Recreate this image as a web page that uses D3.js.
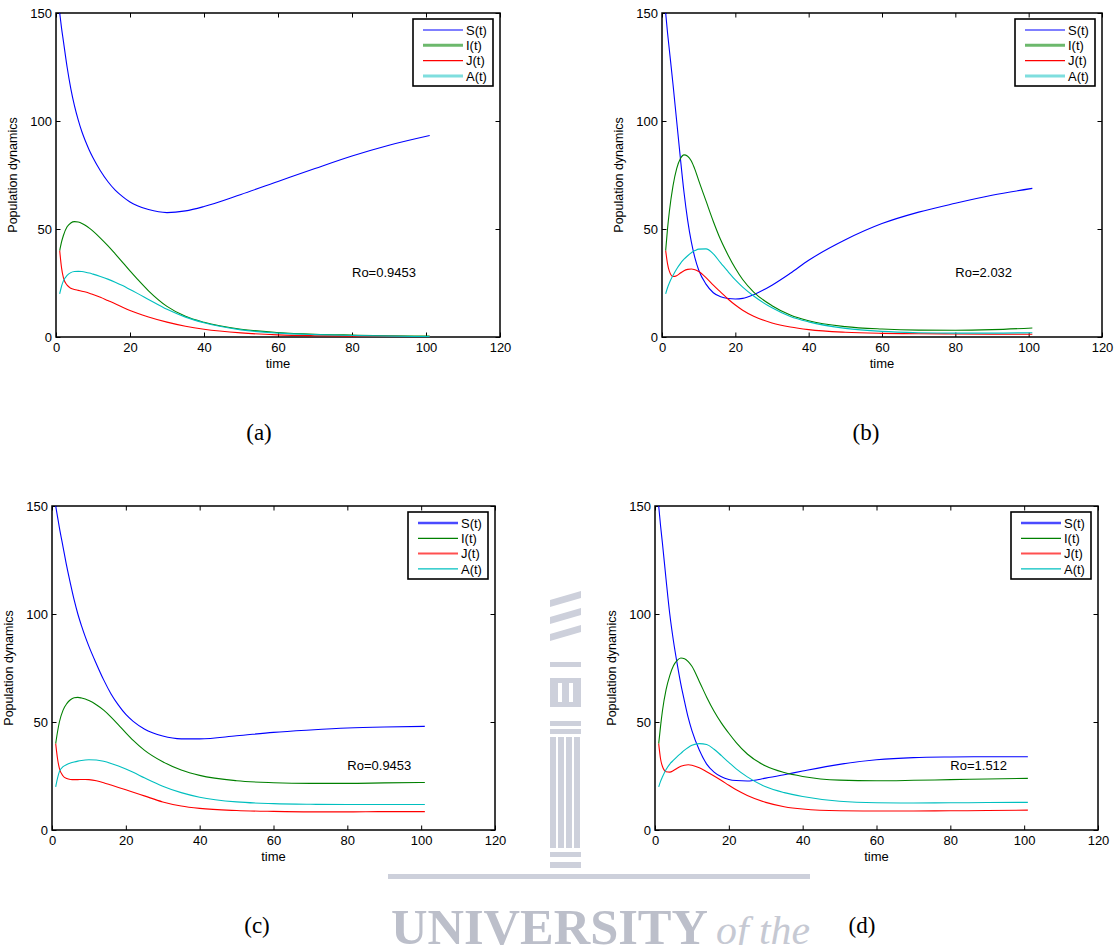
<!DOCTYPE html>
<html>
<head>
<meta charset="utf-8">
<script src="https://cdn.jsdelivr.net/npm/d3@7"></script>
<style>
    body { margin: 0; background: #fff; }
    svg { display: block; }
    text { font-family: "Liberation Sans", Arial, sans-serif; fill: #000; }
    .caption { font-family: "Liberation Serif", "Times New Roman", serif; }
</style>
</head>
<body>
<div id="chart"></div>
<script>
// time points (t runs 1..101)
var time = [1, 1.5, 2, 3, 4, 5, 6, 7, 8, 9, 10, 12, 14, 16, 18, 20, 22, 25, 30, 35, 40, 50, 60, 70, 80, 90, 101];

// panel (a)
var aS = [150, 143, 137, 125, 115, 107, 100.5, 95, 90.5, 86.5, 83, 77, 72, 68, 65, 62.5, 60.8, 59, 57.6, 58.4, 60.4, 66, 72, 78, 83.8, 88.8, 93.3];
var aI = [40, 44, 47, 51, 52.8, 53.4, 53.2, 52.6, 51.6, 50.4, 49, 45.8, 42.3, 38.5, 34.6, 30.6, 26.8, 21.4, 14.2, 9.6, 6.8, 3.6, 2.1, 1.3, 0.9, 0.6, 0.4];
var aJ = [40, 32, 27.5, 24, 22.6, 22, 21.6, 21.2, 20.8, 20.3, 19.7, 18.4, 16.9, 15.4, 13.8, 12.3, 11, 9.3, 6.9, 5, 3.6, 1.9, 1.0, 0.6, 0.4, 0.3, 0.2];
var aA = [20, 23.5, 26, 28.5, 29.8, 30.3, 30.4, 30.3, 30, 29.6, 29.1, 28, 26.8, 25.4, 23.8, 22, 20.2, 17.4, 12.8, 9.2, 6.6, 3.3, 1.8, 1.1, 0.7, 0.4, 0.2];

// panel (b)
var bS = [150, 141, 133, 117, 100, 83, 67, 54, 44, 36.5, 31, 24.5, 20.5, 18.6, 17.8, 17.6, 17.9, 19.6, 24, 29.5, 35.5, 45, 52.5, 57.8, 61.9, 65.6, 68.8];
var bI = [40, 50, 58, 70, 78, 82.5, 84.3, 83.7, 81.5, 77.5, 72.5, 63, 53.5, 45, 38, 31.8, 26.6, 20.8, 14.5, 10.2, 7.5, 4.8, 3.7, 3.2, 3.1, 3.4, 4.2];
var bJ = [40, 34, 30.5, 28, 28.4, 29.6, 30.7, 31.3, 31.5, 31.1, 30.3, 27.5, 24, 20.8, 17.6, 14.8, 12.4, 9.6, 6.5, 4.6, 3.4, 2.2, 1.7, 1.5, 1.4, 1.3, 1.3];
var bA = [20, 22.8, 25, 28.5, 31.5, 34, 36, 37.6, 39, 40, 40.7, 40.8, 38.5, 34.3, 30.3, 26.4, 23.1, 19, 13.5, 9.5, 7, 4, 2.6, 2, 1.8, 1.8, 2];

// panel (c)
var cS = [150, 145, 140, 131, 122, 114, 106.5, 100, 94.5, 89.5, 85, 77, 69.5, 63, 57.8, 53.5, 50.3, 46.8, 43.5, 42.2, 42.2, 43.6, 45.2, 46.3, 47.2, 47.7, 48];
var cI = [40, 45.5, 50, 55.5, 58.5, 60.3, 61.2, 61.4, 61.1, 60.6, 59.9, 58, 55.5, 52.3, 48.7, 45, 41.5, 37, 31.6, 27.8, 25.3, 22.8, 21.9, 21.6, 21.6, 21.8, 22];
var cJ = [40, 33, 28.5, 25, 23.8, 23.4, 23.3, 23.3, 23.4, 23.4, 23.3, 22.8, 21.9, 20.8, 19.7, 18.6, 17.5, 15.8, 13, 11.1, 10, 9, 8.6, 8.4, 8.4, 8.5, 8.5];
var cA = [20, 24, 27, 29.3, 30.3, 31, 31.5, 31.9, 32.2, 32.4, 32.5, 32.4, 31.8, 30.8, 29.6, 28.2, 26.7, 24.2, 20.3, 17.3, 15.2, 13, 12.2, 11.9, 11.8, 11.8, 11.8];

// panel (d)
var dS = [150, 141, 133, 116, 100, 87.5, 77, 67.5, 59.5, 52, 46, 37, 30.5, 26.8, 24.6, 23.4, 22.9, 22.7, 24, 25.6, 27.3, 30.4, 32.5, 33.5, 33.8, 33.9, 33.9];
var dI = [40, 48, 55, 65, 71.5, 76, 78.5, 79.6, 79.3, 78, 75.8, 68.8, 61.5, 55, 49.5, 44.8, 40.5, 35.2, 29.6, 26.6, 24.8, 23.1, 22.8, 23, 23.3, 23.6, 23.9];
var dJ = [40, 33, 29.5, 27, 26.8, 27.5, 28.6, 29.5, 30, 30.2, 30, 28.8, 27, 25, 22.9, 20.7, 18.6, 16, 12.8, 10.8, 9.7, 8.9, 8.8, 8.8, 8.9, 9, 9.2];
var dA = [20, 22.5, 24.5, 28, 30.5, 32.3, 34, 35.5, 37, 38.2, 39.2, 40, 39.6, 37.4, 34.4, 31.3, 28.3, 24.6, 20, 17.3, 15.5, 13.3, 12.6, 12.5, 12.6, 12.7, 12.8];

var seriesNames = ['S(t)', 'I(t)', 'J(t)', 'A(t)'];
var roLabels = ['Ro=0.9453', 'Ro=2.032', 'Ro=0.9453', 'Ro=1.512'];
var captions = ['(a)', '(b)', '(c)', '(d)'];
var xTicks = [0, 20, 40, 60, 80, 100, 120];
var yTicks = [0, 50, 100, 150];
var roAt = [80, 30];

(function () {
    'use strict';
    var width = 1118,
        height = 945;

    var colors = ['#0000ff', '#008000', '#ff0000', '#00bfbf'];
    // legend swatches look smeared in the scan: some are wider and paler
    var swatchTop = [
        {w: 1.2, c: '#0000ff'}, {w: 3, c: '#6cb86c'}, {w: 1.2, c: '#ff0000'}, {w: 3, c: '#7fdede'}
    ];
    var swatchBottom = [
        {w: 2.4, c: '#4a4aff'}, {w: 1.2, c: '#008000'}, {w: 2, c: '#ff5050'}, {w: 1.3, c: '#00bfbf'}
    ];

    var panels = [
        {box: [56, 13, 500, 337], data: [aS, aI, aJ, aA], sw: swatchTop, cap: [259, 433]},
        {box: [662, 13, 1102, 337], data: [bS, bI, bJ, bA], sw: swatchTop, cap: [866, 433]},
        {box: [52, 506, 495, 830], data: [cS, cI, cJ, cA], sw: swatchBottom, cap: [257, 926]},
        {box: [655, 506, 1098, 830], data: [dS, dI, dJ, dA], sw: swatchBottom, cap: [862, 926]}
    ];

    var svg = d3.select('#chart')
        .append('svg')
        .attr('width', width)
        .attr('height', height);

    drawWatermark(svg);

    panels.forEach(function (p, k) {
        var x0 = p.box[0], y0 = p.box[1], x1 = p.box[2], y1 = p.box[3];

        var x = d3.scaleLinear().domain([0, 120]).range([x0, x1]);
        var y = d3.scaleLinear().domain([0, 150]).range([y1, y0]);

        var g = svg.append('g').attr('class', 'panel');

        g.append('clipPath')
            .attr('id', 'clip' + k)
            .append('rect')
            .attr('x', x0).attr('y', y0)
            .attr('width', x1 - x0).attr('height', y1 - y0);

        // inner ticks on all four sides, matlab style
        var tl = 4.5;
        g.append('g')
            .attr('transform', 'translate(0,' + y1 + ')')
            .call(d3.axisBottom(x).tickValues(xTicks).tickSizeInner(-tl).tickSizeOuter(0).tickPadding(6))
            .call(styleAxis);
        g.append('g')
            .attr('transform', 'translate(0,' + y0 + ')')
            .call(d3.axisTop(x).tickValues(xTicks).tickSizeInner(-tl).tickSizeOuter(0).tickFormat(''))
            .call(styleAxis);
        g.append('g')
            .attr('transform', 'translate(' + x0 + ',0)')
            .call(d3.axisLeft(y).tickValues(yTicks).tickSizeInner(-tl).tickSizeOuter(0).tickPadding(4))
            .call(styleAxis);
        g.append('g')
            .attr('transform', 'translate(' + x1 + ',0)')
            .call(d3.axisRight(y).tickValues(yTicks).tickSizeInner(-tl).tickSizeOuter(0).tickFormat(''))
            .call(styleAxis);

        g.append('rect')
            .attr('x', x0).attr('y', y0)
            .attr('width', x1 - x0).attr('height', y1 - y0)
            .attr('fill', 'none')
            .attr('stroke', '#000')
            .attr('stroke-width', 1.5);

        var line = d3.line()
            .x(function (d, i) { return x(time[i]); })
            .y(function (d) { return y(d); })
            .curve(d3.curveMonotoneX);

        g.append('g')
            .attr('clip-path', 'url(#clip' + k + ')')
            .selectAll('path')
            .data(p.data)
            .enter().append('path')
            .attr('d', line)
            .attr('fill', 'none')
            .attr('stroke', function (d, i) { return colors[i]; })
            .attr('stroke-width', 1.1);

        // axis labels
        g.append('text')
            .attr('x', (x0 + x1) / 2)
            .attr('y', y1 + 31)
            .attr('text-anchor', 'middle')
            .style('font-size', '13px')
            .text('time');

        g.append('text')
            .attr('transform', 'translate(' + (x0 - 39) + ',' + ((y0 + y1) / 2) + ') rotate(-90)')
            .attr('text-anchor', 'middle')
            .style('font-size', '12.5px')
            .text('Population dynamics');

        g.append('text')
            .attr('x', x(roAt[0]))
            .attr('y', y(roAt[1]))
            .attr('dy', '0.35em')
            .style('font-size', '13px')
            .text(roLabels[k]);

        // legend
        var lw = 80, lh = 67;
        var lx = x1 - 7 - lw, ly = y0 + 6;
        var legend = g.append('g').attr('transform', 'translate(' + lx + ',' + ly + ')');
        legend.append('rect')
            .attr('width', lw).attr('height', lh)
            .attr('fill', '#fff')
            .attr('stroke', '#000')
            .attr('stroke-width', 1.6);
        var row = legend.selectAll('g.row')
            .data(seriesNames)
            .enter().append('g')
            .attr('class', 'row')
            .attr('transform', function (d, i) { return 'translate(0,' + (11 + i * 15.3) + ')'; });
        row.append('line')
            .attr('x1', 10).attr('x2', 50)
            .attr('stroke', function (d, i) { return p.sw[i].c; })
            .attr('stroke-width', function (d, i) { return p.sw[i].w; });
        row.append('text')
            .attr('x', 53)
            .attr('dy', '0.36em')
            .style('font-size', '13px')
            .text(function (d) { return d; });

        svg.append('text')
            .attr('class', 'caption')
            .attr('x', p.cap[0])
            .attr('y', p.cap[1])
            .attr('dy', '0.32em')
            .attr('text-anchor', 'middle')
            .style('font-size', '23px')
            .text(captions[k]);
    });

    function styleAxis(sel) {
        sel.select('.domain').remove();
        sel.selectAll('line').attr('stroke', '#000').attr('stroke-width', 1);
        sel.selectAll('text')
            .style('font-size', '13px')
            .style('font-family', '"Liberation Sans", Arial, sans-serif')
            .attr('fill', '#000');
    }

    // faint university watermark behind the lower panels
    function drawWatermark(s) {
        var wm = s.append('g').style('fill', '#cdd0db');
        var cx = 550, cw = 31;
        // slanted stripes
        [600, 617, 634].forEach(function (yy) {
            wm.append('path')
                .attr('d', 'M' + cx + ',' + yy + 'L' + (cx + cw) + ',' + (yy - 9) +
                    'L' + (cx + cw) + ',' + (yy - 2) + 'L' + cx + ',' + (yy + 7) + 'Z');
        });
        wm.append('rect').attr('x', cx).attr('y', 662).attr('width', cw).attr('height', 5);
        wm.append('rect').attr('x', cx).attr('y', 678).attr('width', cw).attr('height', 29);
        wm.append('rect').attr('x', cx + 8).attr('y', 683).attr('width', 4).attr('height', 19).style('fill', '#fff');
        wm.append('rect').attr('x', cx + 19).attr('y', 683).attr('width', 4).attr('height', 19).style('fill', '#fff');
        wm.append('rect').attr('x', cx).attr('y', 721).attr('width', cw).attr('height', 5);
        wm.append('rect').attr('x', cx).attr('y', 729).attr('width', cw).attr('height', 5);
        [0, 8, 16, 24].forEach(function (dx) {
            wm.append('rect').attr('x', cx + dx).attr('y', 737).attr('width', 6).attr('height', 111);
        });
        wm.append('rect').attr('x', cx).attr('y', 852).attr('width', cw).attr('height', 5);
        wm.append('rect').attr('x', cx).attr('y', 862).attr('width', cw).attr('height', 6);
        wm.append('rect').attr('x', 388).attr('y', 874).attr('width', 422).attr('height', 5);
        wm.append('text')
            .attr('x', 391).attr('y', 944)
            .attr('textLength', 317)
            .attr('lengthAdjust', 'spacingAndGlyphs')
            .style('font-family', '"Liberation Serif", serif')
            .style('font-weight', 'bold')
            .style('font-size', '50px')
            .style('fill', '#bcbfca')
            .text('UNIVERSITY');
        wm.append('text')
            .attr('x', 716).attr('y', 944)
            .attr('textLength', 94)
            .attr('lengthAdjust', 'spacingAndGlyphs')
            .style('font-family', '"Liberation Serif", serif')
            .style('font-style', 'italic')
            .style('font-size', '40px')
            .style('fill', '#c6c9d3')
            .text('of the');
    }
})();
</script>
</body>
</html>
